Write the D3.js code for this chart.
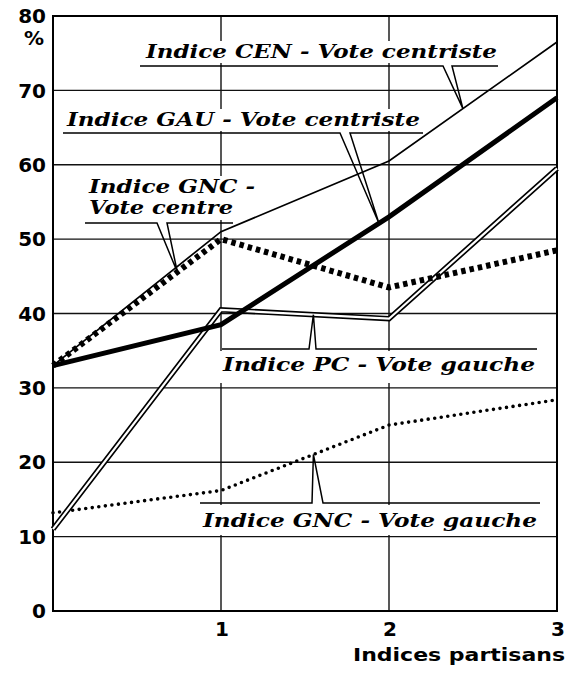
<!DOCTYPE html>
<html>
<head>
<meta charset="utf-8">
<script src="https://cdn.jsdelivr.net/npm/d3@7"></script>
<style>
    body { margin: 0; background: #fff; }
</style>
</head>
<body>
<div id="chart"></div>
<script>
// Data
const indices = [0, 1, 2, 3];
const cenCentriste = [33, 51, 60.5, 76.5];
const gauCentriste = [33, 38.5, 53, 69];
const gncCentre = [33, 50, 43.5, 48.5];
const pcGauche = [11, 40.5, 39.3, 59.5];
const gncGauche = [13.2, 16.2, 25, 28.4];

const yTicks = [0, 10, 20, 30, 40, 50, 60, 70, 80];
const xTicks = [1, 2, 3];

class partisanChart {
    constructor(parentElement) {
        this.parentElement = parentElement;
        this.initVis();
    }

    initVis() {
        let vis = this;

        vis.width = 572;
        vis.height = 673;
        vis.margin = {top: 16, right: 15, bottom: 62, left: 53};

        vis.svg = d3.select("#" + vis.parentElement).append("svg")
            .attr("width", vis.width)
            .attr("height", vis.height);

        vis.x = d3.scaleLinear().domain([0, 3]).range([vis.margin.left, vis.width - vis.margin.right]);
        vis.y = d3.scaleLinear().domain([0, 80]).range([vis.height - vis.margin.bottom, vis.margin.top]);

        vis.updateVis();
    }

    // value of a series at some x, along its straight segments
    valueAt(values, xv) {
        let i = Math.min(Math.floor(xv), indices.length - 2);
        let t = xv - indices[i];
        return values[i] + (values[i + 1] - values[i]) * t;
    }

    updateVis() {
        let vis = this;
        let x0 = vis.x(0), x1 = vis.x(3), y0 = vis.y(0), y1 = vis.y(80);

        // Grid
        let grid = vis.svg.append("g").attr("stroke", "#111").attr("stroke-width", 1.4);
        grid.selectAll(".hg")
            .data(yTicks.filter(d => d > 0 && d < 80))
            .join("line")
            .attr("x1", x0).attr("x2", x1)
            .attr("y1", d => vis.y(d)).attr("y2", d => vis.y(d));
        grid.selectAll(".vg")
            .data([1, 2])
            .join("line")
            .attr("x1", d => vis.x(d)).attr("x2", d => vis.x(d))
            .attr("y1", y0).attr("y2", y1);

        // Labels (white boxes hide the grid behind the text)
        vis.labels = [
            {lines: ["Indice CEN - Vote centriste"], x: 146, y: 58, w: 351, rule: [140, 498, 66], box: [140, 41, 360, 22],
             series: cenCentriste, tipX: 2.44, base: [443, 452]},
            {lines: ["Indice GAU - Vote centriste"], x: 67, y: 126, w: 353, rule: [63, 423, 133], box: [63, 109, 360, 22],
             series: gauCentriste, tipX: 1.94, base: [340, 350]},
            {lines: ["Indice GNC -", "Vote centre"], x: 89, y: 193, w: [166, 144], dy: 21, size: 18, rule: [85, 233, 223], box: [85, 176, 172, 44],
             series: gncCentre, tipX: 0.74, base: [157, 167]},
            {lines: ["Indice PC - Vote gauche"], x: 223, y: 371, w: 312, rule: [222, 537, 349], box: [220, 351, 320, 32],
             series: pcGauche, tipX: 1.55, base: [309, 316]},
            {lines: ["Indice GNC - Vote gauche"], x: 203, y: 527, w: 334, rule: [200, 540, 503], box: [200, 505, 342, 30],
             series: gncGauche, tipX: 1.55, base: [312, 323]}
        ];

        vis.svg.append("g").selectAll("rect")
            .data(vis.labels)
            .join("rect")
            .attr("x", d => d.box[0]).attr("y", d => d.box[1])
            .attr("width", d => d.box[2]).attr("height", d => d.box[3])
            .attr("fill", "#fff");

        // Frame
        vis.svg.append("rect")
            .attr("x", x0).attr("y", y1)
            .attr("width", x1 - x0).attr("height", y0 - y1)
            .attr("fill", "none")
            .attr("stroke", "#000")
            .attr("stroke-width", 2);

        // Lines
        let line = d3.line()
            .x((d, i) => vis.x(indices[i]))
            .y(d => vis.y(d));

        let lines = vis.svg.append("g").attr("fill", "none").attr("stroke-linejoin", "miter");

        lines.append("path").datum(gncGauche)
            .attr("d", line)
            .attr("stroke", "#000")
            .attr("stroke-width", 3.6)
            .attr("stroke-linecap", "round")
            .attr("stroke-dasharray", "0,6.6");

        // double line: black stroke with a white core
        lines.append("path").datum(pcGauche)
            .attr("d", line)
            .attr("stroke", "#000")
            .attr("stroke-width", 5.5);
        lines.append("path").datum(pcGauche)
            .attr("d", line)
            .attr("stroke", "#fff")
            .attr("stroke-width", 2.2);

        lines.append("path").datum(cenCentriste)
            .attr("d", line)
            .attr("stroke", "#000")
            .attr("stroke-width", 1.7);

        lines.append("path").datum(gncCentre)
            .attr("d", line)
            .attr("stroke", "#000")
            .attr("stroke-width", 6)
            .attr("stroke-dasharray", "4.5,4");

        lines.append("path").datum(gauCentriste)
            .attr("d", line)
            .attr("stroke", "#000")
            .attr("stroke-width", 5);

        // Leaders and rules under / over the labels
        let lead = vis.svg.append("g").attr("fill", "none").attr("stroke", "#000").attr("stroke-width", 1.5);
        lead.selectAll("path")
            .data(vis.labels)
            .join("path")
            .attr("d", d => {
                let ry = d.rule[2];
                let tx = vis.x(d.tipX), ty = vis.y(vis.valueAt(d.series, d.tipX));
                return `M${d.rule[0]},${ry}L${d.base[0]},${ry}L${tx},${ty}L${d.base[1]},${ry}L${d.rule[1]},${ry}`;
            });

        let txt = vis.svg.append("g")
            .style("font-family", "'DejaVu Serif', serif")
            .style("font-style", "italic")
            .style("font-weight", "bold")
            .attr("fill", "#000");
        vis.labels.forEach(l => {
            let t = txt.append("text").style("font-size", (l.size || 19) + "px");
            l.lines.forEach((s, i) => {
                t.append("tspan")
                    .attr("x", l.x)
                    .attr("y", l.y + i * (l.dy || 0))
                    .attr("textLength", Array.isArray(l.w) ? l.w[i] : l.w)
                    .attr("lengthAdjust", "spacingAndGlyphs")
                    .text(s);
            });
        });

        // Axis labels
        let ax = vis.svg.append("g")
            .style("font-family", "'DejaVu Sans', sans-serif")
            .style("font-weight", "bold")
            .style("font-size", "20px")
            .attr("fill", "#000");

        ax.selectAll(".yt")
            .data(yTicks)
            .join("text")
            .attr("x", 46)
            .attr("y", d => vis.y(d))
            .attr("dy", "0.36em")
            .attr("text-anchor", "end")
            .text(d => d);

        ax.append("text")
            .attr("x", 44).attr("y", 45)
            .attr("text-anchor", "end")
            .text("%");

        ax.selectAll(".xt")
            .data(xTicks)
            .join("text")
            .attr("x", d => vis.x(d) + 1)
            .attr("y", 636)
            .attr("text-anchor", "middle")
            .text(d => d);

        vis.svg.append("text")
            .attr("x", 353).attr("y", 661)
            .attr("textLength", 212)
            .attr("lengthAdjust", "spacingAndGlyphs")
            .style("font-family", "'DejaVu Sans', sans-serif")
            .style("font-size", "18px")
            .style("font-weight", "bold")
            .text("Indices partisans");
    }
}

new partisanChart("chart");
</script>
</body>
</html>
